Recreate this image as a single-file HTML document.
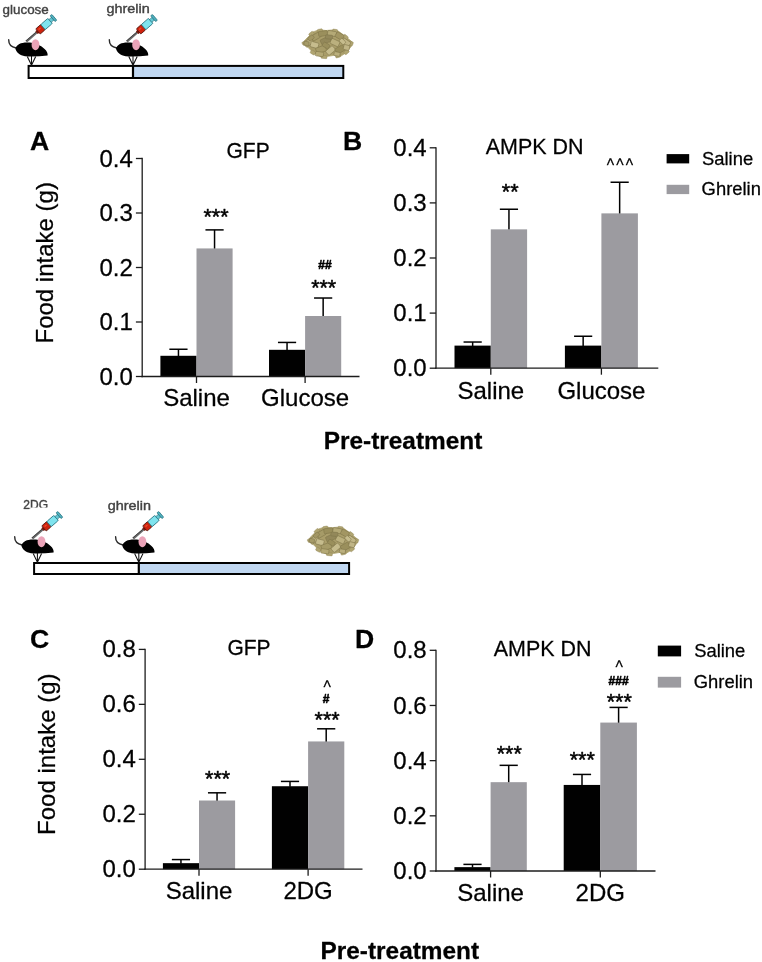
<!DOCTYPE html>
<html lang="en"><head><meta charset="utf-8"><title>Food intake figure</title>
<style>
html,body{margin:0;padding:0;background:#fff;}
body{width:762px;height:962px;overflow:hidden;}
svg{display:block;font-family:"Liberation Sans", Arial, Helvetica, sans-serif;}
.sl text{stroke:#404040;stroke-width:0.4px;}
.ct text{stroke:#000;stroke-width:0.28px;stroke-linejoin:round;}
</style></head><body>
<svg width="762" height="962" viewBox="0 0 762 962">
<defs>
<filter id="soft" x="-10%" y="-10%" width="120%" height="120%"><feGaussianBlur stdDeviation="0.45"/></filter>
<filter id="soft2" x="-10%" y="-10%" width="120%" height="120%"><feGaussianBlur stdDeviation="0.35"/></filter>
<clipPath id="clip2dg"><rect x="0" y="490" width="30.6" height="19.5"/><rect x="30.6" y="490" width="60" height="17.4"/></clipPath>
</defs>
<rect width="762" height="962" fill="#fff"/>
<g opacity="0.999">

<g class="sl" filter="url(#soft2)">
<rect x="28.60" y="65.90" width="314.70" height="12.10" fill="#fff" />
<rect x="133.00" y="65.90" width="210.30" height="12.10" fill="#c0d7f1" />
<rect x="28.60" y="65.90" width="314.70" height="12.10" fill="none" stroke="#000" stroke-width="2.0"/>
<line x1="133.00" y1="64.90" x2="133.00" y2="79.00" stroke="#000" stroke-width="2.2"/>
<g transform="translate(0.00,0.00)">
<path d="M8.7,39.8 C8.6,44.2 11.6,47.2 16.2,48.0" fill="none" stroke="#2a2a2a" stroke-width="1.4" stroke-linecap="round"/>
<g transform="translate(26.3,41.6) rotate(-41)">
<rect x="0" y="-1.1" width="14.2" height="2.2" fill="#6b6b6b"/>
<rect x="0" y="-1.1" width="14.2" height="0.6" fill="#333"/>
<rect x="13.6" y="-1.9" width="2.4" height="3.8" fill="#7a1408"/>
<rect x="15.4" y="-3.4" width="6.8" height="6.8" rx="0.9" fill="#cf2108" stroke="#4a1810" stroke-width="0.8"/>
<rect x="17" y="-1.8" width="3" height="1.6" rx="0.8" fill="#e8472c"/>
<rect x="22.0" y="-3.4" width="9.6" height="6.8" rx="0.9" fill="#7fe3ee" stroke="#256f7c" stroke-width="0.8"/>
<rect x="31.4" y="-1.8" width="3.8" height="3.6" fill="#62c6d3" stroke="#256f7c" stroke-width="0.6"/>
<rect x="34.8" y="-3.9" width="2.3" height="7.8" rx="0.9" fill="#4fb0be" stroke="#256f7c" stroke-width="0.7"/>
</g>
<path d="M15.4,48.6 C16.6,43.6 23,41.7 30,42.6 C36,43.3 41,45.6 44.6,48.9 C46.8,50.9 48,53.4 47.6,55.6 C40,56.4 32,56.7 25,56.3 C20,55.6 16.2,52.6 15.4,48.6 Z" fill="#050505"/>
<ellipse cx="35.5" cy="44.7" rx="3.9" ry="5.5" fill="#eba3b8"/>
</g>
<g transform="translate(100.60,0.00)">
<path d="M8.7,39.8 C8.6,44.2 11.6,47.2 16.2,48.0" fill="none" stroke="#2a2a2a" stroke-width="1.4" stroke-linecap="round"/>
<g transform="translate(26.3,41.6) rotate(-41)">
<rect x="0" y="-1.1" width="14.2" height="2.2" fill="#6b6b6b"/>
<rect x="0" y="-1.1" width="14.2" height="0.6" fill="#333"/>
<rect x="13.6" y="-1.9" width="2.4" height="3.8" fill="#7a1408"/>
<rect x="15.4" y="-3.4" width="6.8" height="6.8" rx="0.9" fill="#cf2108" stroke="#4a1810" stroke-width="0.8"/>
<rect x="17" y="-1.8" width="3" height="1.6" rx="0.8" fill="#e8472c"/>
<rect x="22.0" y="-3.4" width="9.6" height="6.8" rx="0.9" fill="#7fe3ee" stroke="#256f7c" stroke-width="0.8"/>
<rect x="31.4" y="-1.8" width="3.8" height="3.6" fill="#62c6d3" stroke="#256f7c" stroke-width="0.6"/>
<rect x="34.8" y="-3.9" width="2.3" height="7.8" rx="0.9" fill="#4fb0be" stroke="#256f7c" stroke-width="0.7"/>
</g>
<path d="M15.4,48.6 C16.6,43.6 23,41.7 30,42.6 C36,43.3 41,45.6 44.6,48.9 C46.8,50.9 48,53.4 47.6,55.6 C40,56.4 32,56.7 25,56.3 C20,55.6 16.2,52.6 15.4,48.6 Z" fill="#050505"/>
<ellipse cx="35.5" cy="44.7" rx="3.9" ry="5.5" fill="#eba3b8"/>
</g>
<path d="M27.30,56.40 L31.50,65.20 L35.70,56.40 M31.50,55.90 L31.50,65.20" fill="none" stroke="#111" stroke-width="1.05"/>
<path d="M128.80,56.40 L133.00,65.20 L137.20,56.40 M133.00,55.90 L133.00,65.20" fill="none" stroke="#111" stroke-width="1.05"/>
<text x="2.60" y="13.90" font-size="13.4" text-anchor="start" font-weight="normal" fill="#444" >glucose</text>
<text transform="translate(106.50,13.20) scale(1.075,1)" font-size="13.4" text-anchor="start" font-weight="normal" fill="#444" >ghrelin</text>
</g>
<g transform="translate(280.00,10.00)" filter="url(#soft)">
<path d="M23.1,32.9 L25.5,29.5 L29,26 L33,21.9 L37,20.5 L40.8,19.9 L46,20.5 L52,20 L58.2,21.1 L63,24.5 L68,28.5 L72.3,32.1 L71.5,36 L68.4,40 L65,43.5 L60.5,46.3 L56,45 L50,46 L41.6,47.1 L36,44 L32,41.5 L28.2,37.6 L25,35.5 Z" fill="#aa9e6b" stroke="#b3a875" stroke-width="0.8" stroke-linejoin="round"/>
<rect x="22.2" y="31.2" width="4.5" height="3.5" rx="0.8" fill="#b0a571" stroke="#8f8455" stroke-width="0.4" transform="rotate(-30 24.5 33)"/>
<rect x="29.0" y="22.2" width="5" height="3.5" rx="0.8" fill="#b0a571" stroke="#8f8455" stroke-width="0.4" transform="rotate(-40 31.5 24)"/>
<rect x="37.5" y="19.1" width="5" height="3" rx="0.8" fill="#b0a571" stroke="#8f8455" stroke-width="0.4" transform="rotate(-10 40 20.6)"/>
<rect x="52.5" y="19.3" width="5" height="3" rx="0.8" fill="#b0a571" stroke="#8f8455" stroke-width="0.4" transform="rotate(8 55 20.8)"/>
<rect x="63.0" y="25.2" width="5" height="3.5" rx="0.8" fill="#b0a571" stroke="#8f8455" stroke-width="0.4" transform="rotate(38 65.5 27)"/>
<rect x="69.0" y="31.5" width="4" height="4" rx="0.8" fill="#b0a571" stroke="#8f8455" stroke-width="0.4" transform="rotate(20 71 33.5)"/>
<rect x="64.0" y="40.2" width="5" height="3.5" rx="0.8" fill="#b0a571" stroke="#8f8455" stroke-width="0.4" transform="rotate(-40 66.5 42)"/>
<rect x="55.5" y="44.5" width="5" height="3" rx="0.8" fill="#b0a571" stroke="#8f8455" stroke-width="0.4" transform="rotate(-15 58 46)"/>
<rect x="41.0" y="45.5" width="6" height="3" rx="0.8" fill="#b0a571" stroke="#8f8455" stroke-width="0.4" transform="rotate(5 44 47)"/>
<rect x="30.5" y="40.8" width="5" height="3.5" rx="0.8" fill="#b0a571" stroke="#8f8455" stroke-width="0.4" transform="rotate(30 33 42.5)"/>
<rect x="24.0" y="29.8" width="9" height="5.5" rx="1" fill="#bbb07e" stroke="#7f7549" stroke-width="0.55" transform="rotate(-35 28.5 32.5)"/>
<rect x="31.5" y="23.8" width="9" height="5.5" rx="1" fill="#a69b67" stroke="#7f7549" stroke-width="0.55" transform="rotate(-30 36 26.5)"/>
<rect x="30.5" y="32.2" width="8" height="5.5" rx="1" fill="#c6bc8d" stroke="#7f7549" stroke-width="0.55" transform="rotate(15 34.5 35)"/>
<rect x="38.5" y="21.0" width="9" height="5" rx="1" fill="#9a8f5c" stroke="#7f7549" stroke-width="0.55" transform="rotate(-8 43 23.5)"/>
<rect x="47.5" y="21.0" width="9" height="5" rx="1" fill="#b4a976" stroke="#7f7549" stroke-width="0.55" transform="rotate(10 52 23.5)"/>
<rect x="55.5" y="23.2" width="8" height="5.5" rx="1" fill="#a29663" stroke="#7f7549" stroke-width="0.55" transform="rotate(30 59.5 26)"/>
<rect x="61.8" y="29.8" width="8.5" height="5.5" rx="1" fill="#c0b586" stroke="#7f7549" stroke-width="0.55" transform="rotate(35 66 32.5)"/>
<rect x="40.5" y="27.8" width="10" height="5.5" rx="1" fill="#93885a" stroke="#7f7549" stroke-width="0.55" transform="rotate(-25 45.5 30.5)"/>
<rect x="50.5" y="29.8" width="9" height="5.5" rx="1" fill="#bbb07e" stroke="#7f7549" stroke-width="0.55" transform="rotate(25 55 32.5)"/>
<rect x="36.0" y="36.5" width="10" height="6" rx="1" fill="#a69b67" stroke="#7f7549" stroke-width="0.55" transform="rotate(-20 41 39.5)"/>
<rect x="46.0" y="37.8" width="9" height="5.5" rx="1" fill="#c6bc8d" stroke="#7f7549" stroke-width="0.55" transform="rotate(-40 50.5 40.5)"/>
<rect x="55.5" y="36.5" width="9" height="6" rx="1" fill="#9a8f5c" stroke="#7f7549" stroke-width="0.55" transform="rotate(-30 60 39.5)"/>
<rect x="35.5" y="41.8" width="8" height="4.5" rx="1" fill="#b4a976" stroke="#7f7549" stroke-width="0.55" transform="rotate(8 39.5 44)"/>
<rect x="28.0" y="26.0" width="6" height="4" rx="1" fill="#a29663" stroke="#7f7549" stroke-width="0.55" transform="rotate(-40 31 28)"/>
<rect x="63.5" y="35.0" width="6" height="5" rx="1" fill="#c0b586" stroke="#7f7549" stroke-width="0.55" transform="rotate(15 66.5 37.5)"/>
<rect x="45.5" y="25.0" width="7" height="4" rx="1" fill="#93885a" stroke="#7f7549" stroke-width="0.55" transform="rotate(5 49 27)"/>
<rect x="54.0" y="42.0" width="6" height="4" rx="1" fill="#bbb07e" stroke="#7f7549" stroke-width="0.55" transform="rotate(10 57 44)"/>
<rect x="24.0" y="31.5" width="5" height="4" rx="1" fill="#a69b67" stroke="#7f7549" stroke-width="0.55" transform="rotate(10 26.5 33.5)"/>
<rect x="59.5" y="29.5" width="6" height="4" rx="1" fill="#c6bc8d" stroke="#7f7549" stroke-width="0.55" transform="rotate(45 62.5 31.5)"/>
<rect x="42.5" y="33.2" width="7" height="4.5" rx="1" fill="#9a8f5c" stroke="#7f7549" stroke-width="0.55" transform="rotate(30 46 35.5)"/>
</g>
<g class="sl" filter="url(#soft2)">
<rect x="34.10" y="563.00" width="315.00" height="11.00" fill="#fff" />
<rect x="138.80" y="563.00" width="210.30" height="11.00" fill="#c0d7f1" />
<rect x="34.10" y="563.00" width="315.00" height="11.00" fill="none" stroke="#000" stroke-width="2.0"/>
<line x1="138.80" y1="562.00" x2="138.80" y2="575.00" stroke="#000" stroke-width="2.2"/>
<g transform="translate(6.00,497.00)">
<path d="M8.7,39.8 C8.6,44.2 11.6,47.2 16.2,48.0" fill="none" stroke="#2a2a2a" stroke-width="1.4" stroke-linecap="round"/>
<g transform="translate(26.3,41.6) rotate(-41)">
<rect x="0" y="-1.1" width="14.2" height="2.2" fill="#6b6b6b"/>
<rect x="0" y="-1.1" width="14.2" height="0.6" fill="#333"/>
<rect x="13.6" y="-1.9" width="2.4" height="3.8" fill="#7a1408"/>
<rect x="15.4" y="-3.4" width="6.8" height="6.8" rx="0.9" fill="#cf2108" stroke="#4a1810" stroke-width="0.8"/>
<rect x="17" y="-1.8" width="3" height="1.6" rx="0.8" fill="#e8472c"/>
<rect x="22.0" y="-3.4" width="9.6" height="6.8" rx="0.9" fill="#7fe3ee" stroke="#256f7c" stroke-width="0.8"/>
<rect x="31.4" y="-1.8" width="3.8" height="3.6" fill="#62c6d3" stroke="#256f7c" stroke-width="0.6"/>
<rect x="34.8" y="-3.9" width="2.3" height="7.8" rx="0.9" fill="#4fb0be" stroke="#256f7c" stroke-width="0.7"/>
</g>
<path d="M15.4,48.6 C16.6,43.6 23,41.7 30,42.6 C36,43.3 41,45.6 44.6,48.9 C46.8,50.9 48,53.4 47.6,55.6 C40,56.4 32,56.7 25,56.3 C20,55.6 16.2,52.6 15.4,48.6 Z" fill="#050505"/>
<ellipse cx="35.5" cy="44.7" rx="3.9" ry="5.5" fill="#eba3b8"/>
</g>
<g transform="translate(106.90,497.00)">
<path d="M8.7,39.8 C8.6,44.2 11.6,47.2 16.2,48.0" fill="none" stroke="#2a2a2a" stroke-width="1.4" stroke-linecap="round"/>
<g transform="translate(26.3,41.6) rotate(-41)">
<rect x="0" y="-1.1" width="14.2" height="2.2" fill="#6b6b6b"/>
<rect x="0" y="-1.1" width="14.2" height="0.6" fill="#333"/>
<rect x="13.6" y="-1.9" width="2.4" height="3.8" fill="#7a1408"/>
<rect x="15.4" y="-3.4" width="6.8" height="6.8" rx="0.9" fill="#cf2108" stroke="#4a1810" stroke-width="0.8"/>
<rect x="17" y="-1.8" width="3" height="1.6" rx="0.8" fill="#e8472c"/>
<rect x="22.0" y="-3.4" width="9.6" height="6.8" rx="0.9" fill="#7fe3ee" stroke="#256f7c" stroke-width="0.8"/>
<rect x="31.4" y="-1.8" width="3.8" height="3.6" fill="#62c6d3" stroke="#256f7c" stroke-width="0.6"/>
<rect x="34.8" y="-3.9" width="2.3" height="7.8" rx="0.9" fill="#4fb0be" stroke="#256f7c" stroke-width="0.7"/>
</g>
<path d="M15.4,48.6 C16.6,43.6 23,41.7 30,42.6 C36,43.3 41,45.6 44.6,48.9 C46.8,50.9 48,53.4 47.6,55.6 C40,56.4 32,56.7 25,56.3 C20,55.6 16.2,52.6 15.4,48.6 Z" fill="#050505"/>
<ellipse cx="35.5" cy="44.7" rx="3.9" ry="5.5" fill="#eba3b8"/>
</g>
<path d="M33.20,553.60 L37.40,562.30 L41.60,553.60 M37.40,553.10 L37.40,562.30" fill="none" stroke="#111" stroke-width="1.05"/>
<path d="M134.60,553.60 L138.80,562.30 L143.00,553.60 M138.80,553.10 L138.80,562.30" fill="none" stroke="#111" stroke-width="1.05"/>
<g clip-path="url(#clip2dg)">
<text x="23.30" y="508.80" font-size="12.0" text-anchor="start" font-weight="normal" fill="#444" >2DG</text>
</g>
<text transform="translate(107.80,509.80) scale(1.075,1)" font-size="13.4" text-anchor="start" font-weight="normal" fill="#444" >ghrelin</text>
</g>
<g transform="translate(285.40,507.20)" filter="url(#soft)">
<path d="M23.1,32.9 L25.5,29.5 L29,26 L33,21.9 L37,20.5 L40.8,19.9 L46,20.5 L52,20 L58.2,21.1 L63,24.5 L68,28.5 L72.3,32.1 L71.5,36 L68.4,40 L65,43.5 L60.5,46.3 L56,45 L50,46 L41.6,47.1 L36,44 L32,41.5 L28.2,37.6 L25,35.5 Z" fill="#aa9e6b" stroke="#b3a875" stroke-width="0.8" stroke-linejoin="round"/>
<rect x="22.2" y="31.2" width="4.5" height="3.5" rx="0.8" fill="#b0a571" stroke="#8f8455" stroke-width="0.4" transform="rotate(-30 24.5 33)"/>
<rect x="29.0" y="22.2" width="5" height="3.5" rx="0.8" fill="#b0a571" stroke="#8f8455" stroke-width="0.4" transform="rotate(-40 31.5 24)"/>
<rect x="37.5" y="19.1" width="5" height="3" rx="0.8" fill="#b0a571" stroke="#8f8455" stroke-width="0.4" transform="rotate(-10 40 20.6)"/>
<rect x="52.5" y="19.3" width="5" height="3" rx="0.8" fill="#b0a571" stroke="#8f8455" stroke-width="0.4" transform="rotate(8 55 20.8)"/>
<rect x="63.0" y="25.2" width="5" height="3.5" rx="0.8" fill="#b0a571" stroke="#8f8455" stroke-width="0.4" transform="rotate(38 65.5 27)"/>
<rect x="69.0" y="31.5" width="4" height="4" rx="0.8" fill="#b0a571" stroke="#8f8455" stroke-width="0.4" transform="rotate(20 71 33.5)"/>
<rect x="64.0" y="40.2" width="5" height="3.5" rx="0.8" fill="#b0a571" stroke="#8f8455" stroke-width="0.4" transform="rotate(-40 66.5 42)"/>
<rect x="55.5" y="44.5" width="5" height="3" rx="0.8" fill="#b0a571" stroke="#8f8455" stroke-width="0.4" transform="rotate(-15 58 46)"/>
<rect x="41.0" y="45.5" width="6" height="3" rx="0.8" fill="#b0a571" stroke="#8f8455" stroke-width="0.4" transform="rotate(5 44 47)"/>
<rect x="30.5" y="40.8" width="5" height="3.5" rx="0.8" fill="#b0a571" stroke="#8f8455" stroke-width="0.4" transform="rotate(30 33 42.5)"/>
<rect x="24.0" y="29.8" width="9" height="5.5" rx="1" fill="#bbb07e" stroke="#7f7549" stroke-width="0.55" transform="rotate(-35 28.5 32.5)"/>
<rect x="31.5" y="23.8" width="9" height="5.5" rx="1" fill="#a69b67" stroke="#7f7549" stroke-width="0.55" transform="rotate(-30 36 26.5)"/>
<rect x="30.5" y="32.2" width="8" height="5.5" rx="1" fill="#c6bc8d" stroke="#7f7549" stroke-width="0.55" transform="rotate(15 34.5 35)"/>
<rect x="38.5" y="21.0" width="9" height="5" rx="1" fill="#9a8f5c" stroke="#7f7549" stroke-width="0.55" transform="rotate(-8 43 23.5)"/>
<rect x="47.5" y="21.0" width="9" height="5" rx="1" fill="#b4a976" stroke="#7f7549" stroke-width="0.55" transform="rotate(10 52 23.5)"/>
<rect x="55.5" y="23.2" width="8" height="5.5" rx="1" fill="#a29663" stroke="#7f7549" stroke-width="0.55" transform="rotate(30 59.5 26)"/>
<rect x="61.8" y="29.8" width="8.5" height="5.5" rx="1" fill="#c0b586" stroke="#7f7549" stroke-width="0.55" transform="rotate(35 66 32.5)"/>
<rect x="40.5" y="27.8" width="10" height="5.5" rx="1" fill="#93885a" stroke="#7f7549" stroke-width="0.55" transform="rotate(-25 45.5 30.5)"/>
<rect x="50.5" y="29.8" width="9" height="5.5" rx="1" fill="#bbb07e" stroke="#7f7549" stroke-width="0.55" transform="rotate(25 55 32.5)"/>
<rect x="36.0" y="36.5" width="10" height="6" rx="1" fill="#a69b67" stroke="#7f7549" stroke-width="0.55" transform="rotate(-20 41 39.5)"/>
<rect x="46.0" y="37.8" width="9" height="5.5" rx="1" fill="#c6bc8d" stroke="#7f7549" stroke-width="0.55" transform="rotate(-40 50.5 40.5)"/>
<rect x="55.5" y="36.5" width="9" height="6" rx="1" fill="#9a8f5c" stroke="#7f7549" stroke-width="0.55" transform="rotate(-30 60 39.5)"/>
<rect x="35.5" y="41.8" width="8" height="4.5" rx="1" fill="#b4a976" stroke="#7f7549" stroke-width="0.55" transform="rotate(8 39.5 44)"/>
<rect x="28.0" y="26.0" width="6" height="4" rx="1" fill="#a29663" stroke="#7f7549" stroke-width="0.55" transform="rotate(-40 31 28)"/>
<rect x="63.5" y="35.0" width="6" height="5" rx="1" fill="#c0b586" stroke="#7f7549" stroke-width="0.55" transform="rotate(15 66.5 37.5)"/>
<rect x="45.5" y="25.0" width="7" height="4" rx="1" fill="#93885a" stroke="#7f7549" stroke-width="0.55" transform="rotate(5 49 27)"/>
<rect x="54.0" y="42.0" width="6" height="4" rx="1" fill="#bbb07e" stroke="#7f7549" stroke-width="0.55" transform="rotate(10 57 44)"/>
<rect x="24.0" y="31.5" width="5" height="4" rx="1" fill="#a69b67" stroke="#7f7549" stroke-width="0.55" transform="rotate(10 26.5 33.5)"/>
<rect x="59.5" y="29.5" width="6" height="4" rx="1" fill="#c6bc8d" stroke="#7f7549" stroke-width="0.55" transform="rotate(45 62.5 31.5)"/>
<rect x="42.5" y="33.2" width="7" height="4.5" rx="1" fill="#9a8f5c" stroke="#7f7549" stroke-width="0.55" transform="rotate(30 46 35.5)"/>
</g>
<g class="ct">
<line x1="178.45" y1="356.29" x2="178.45" y2="349.25" stroke="#000" stroke-width="1.5"/>
<line x1="169.35" y1="349.25" x2="187.55" y2="349.25" stroke="#000" stroke-width="1.5"/>
<rect x="160.40" y="355.79" width="36.10" height="20.71" fill="#000" />
<line x1="214.55" y1="248.93" x2="214.55" y2="229.89" stroke="#000" stroke-width="1.5"/>
<line x1="205.45" y1="229.89" x2="223.65" y2="229.89" stroke="#000" stroke-width="1.5"/>
<rect x="196.50" y="248.43" width="36.10" height="128.07" fill="#9c9ba0" />
<line x1="287.05" y1="350.30" x2="287.05" y2="342.44" stroke="#000" stroke-width="1.5"/>
<line x1="277.95" y1="342.44" x2="296.15" y2="342.44" stroke="#000" stroke-width="1.5"/>
<rect x="269.00" y="349.80" width="36.10" height="26.70" fill="#000" />
<line x1="323.15" y1="316.50" x2="323.15" y2="298.02" stroke="#000" stroke-width="1.5"/>
<line x1="314.05" y1="298.02" x2="332.25" y2="298.02" stroke="#000" stroke-width="1.5"/>
<rect x="305.10" y="316.00" width="36.10" height="60.50" fill="#9c9ba0" />
<line x1="142.20" y1="157.85" x2="142.20" y2="377.15" stroke="#1c1c1c" stroke-width="1.3"/>
<line x1="141.55" y1="376.50" x2="359.50" y2="376.50" stroke="#1c1c1c" stroke-width="1.3"/>
<line x1="135.90" y1="376.50" x2="142.20" y2="376.50" stroke="#1c1c1c" stroke-width="1.3"/>
<text x="132.90" y="384.55" font-size="24" text-anchor="end" font-weight="normal" fill="#000" >0.0</text>
<line x1="135.90" y1="322.00" x2="142.20" y2="322.00" stroke="#1c1c1c" stroke-width="1.3"/>
<text x="132.90" y="330.05" font-size="24" text-anchor="end" font-weight="normal" fill="#000" >0.1</text>
<line x1="135.90" y1="267.50" x2="142.20" y2="267.50" stroke="#1c1c1c" stroke-width="1.3"/>
<text x="132.90" y="275.55" font-size="24" text-anchor="end" font-weight="normal" fill="#000" >0.2</text>
<line x1="135.90" y1="213.00" x2="142.20" y2="213.00" stroke="#1c1c1c" stroke-width="1.3"/>
<text x="132.90" y="221.05" font-size="24" text-anchor="end" font-weight="normal" fill="#000" >0.3</text>
<line x1="135.90" y1="158.50" x2="142.20" y2="158.50" stroke="#1c1c1c" stroke-width="1.3"/>
<text x="132.90" y="166.55" font-size="24" text-anchor="end" font-weight="normal" fill="#000" >0.4</text>
<line x1="196.50" y1="376.50" x2="196.50" y2="383.00" stroke="#1c1c1c" stroke-width="1.3"/>
<text x="196.50" y="406.30" font-size="24" text-anchor="middle" font-weight="normal" fill="#000" >Saline</text>
<line x1="305.10" y1="376.50" x2="305.10" y2="383.00" stroke="#1c1c1c" stroke-width="1.3"/>
<text x="305.10" y="406.30" font-size="24" text-anchor="middle" font-weight="normal" fill="#000" >Glucose</text>
<text x="30.10" y="150.30" font-size="26.6" text-anchor="start" font-weight="bold" fill="#000" >A</text>
<text transform="translate(248.10,157.80) scale(0.945,1)" font-size="22.2" text-anchor="middle" font-weight="normal" fill="#000" >GFP</text>
<text x="216.00" y="223.50" font-size="21.5" text-anchor="middle" font-weight="normal" fill="#000" style="stroke-width:0.5px">***</text>
<text x="323.70" y="294.50" font-size="21.5" text-anchor="middle" font-weight="normal" fill="#000" style="stroke-width:0.5px">***</text>
<text x="325.00" y="268.90" font-size="12" text-anchor="middle" font-weight="bold" fill="#000" style="stroke-width:0.6px">##</text>
<text transform="translate(53.3,262.8) rotate(-90)" font-size="24" text-anchor="middle" fill="#000">Food intake (g)</text>
<line x1="472.65" y1="346.11" x2="472.65" y2="342.03" stroke="#000" stroke-width="1.5"/>
<line x1="463.55" y1="342.03" x2="481.75" y2="342.03" stroke="#000" stroke-width="1.5"/>
<rect x="454.50" y="345.61" width="36.30" height="22.59" fill="#000" />
<line x1="508.95" y1="229.85" x2="508.95" y2="209.24" stroke="#000" stroke-width="1.5"/>
<line x1="499.85" y1="209.24" x2="518.05" y2="209.24" stroke="#000" stroke-width="1.5"/>
<rect x="490.80" y="229.35" width="36.30" height="138.85" fill="#9c9ba0" />
<line x1="583.15" y1="346.11" x2="583.15" y2="336.24" stroke="#000" stroke-width="1.5"/>
<line x1="574.05" y1="336.24" x2="592.25" y2="336.24" stroke="#000" stroke-width="1.5"/>
<rect x="564.90" y="345.61" width="36.50" height="22.59" fill="#000" />
<line x1="619.65" y1="213.87" x2="619.65" y2="182.24" stroke="#000" stroke-width="1.5"/>
<line x1="610.55" y1="182.24" x2="628.75" y2="182.24" stroke="#000" stroke-width="1.5"/>
<rect x="601.40" y="213.37" width="36.50" height="154.83" fill="#9c9ba0" />
<line x1="436.00" y1="147.15" x2="436.00" y2="368.85" stroke="#1c1c1c" stroke-width="1.3"/>
<line x1="435.35" y1="368.20" x2="658.30" y2="368.20" stroke="#1c1c1c" stroke-width="1.3"/>
<line x1="429.70" y1="368.20" x2="436.00" y2="368.20" stroke="#1c1c1c" stroke-width="1.3"/>
<text x="426.70" y="376.25" font-size="24" text-anchor="end" font-weight="normal" fill="#000" >0.0</text>
<line x1="429.70" y1="313.10" x2="436.00" y2="313.10" stroke="#1c1c1c" stroke-width="1.3"/>
<text x="426.70" y="321.15" font-size="24" text-anchor="end" font-weight="normal" fill="#000" >0.1</text>
<line x1="429.70" y1="258.00" x2="436.00" y2="258.00" stroke="#1c1c1c" stroke-width="1.3"/>
<text x="426.70" y="266.05" font-size="24" text-anchor="end" font-weight="normal" fill="#000" >0.2</text>
<line x1="429.70" y1="202.90" x2="436.00" y2="202.90" stroke="#1c1c1c" stroke-width="1.3"/>
<text x="426.70" y="210.95" font-size="24" text-anchor="end" font-weight="normal" fill="#000" >0.3</text>
<line x1="429.70" y1="147.80" x2="436.00" y2="147.80" stroke="#1c1c1c" stroke-width="1.3"/>
<text x="426.70" y="155.85" font-size="24" text-anchor="end" font-weight="normal" fill="#000" >0.4</text>
<line x1="490.80" y1="368.20" x2="490.80" y2="374.70" stroke="#1c1c1c" stroke-width="1.3"/>
<text x="490.80" y="399.00" font-size="24" text-anchor="middle" font-weight="normal" fill="#000" >Saline</text>
<line x1="601.40" y1="368.20" x2="601.40" y2="374.70" stroke="#1c1c1c" stroke-width="1.3"/>
<text x="601.40" y="399.00" font-size="24" text-anchor="middle" font-weight="normal" fill="#000" >Glucose</text>
<text x="342.90" y="150.10" font-size="26.6" text-anchor="start" font-weight="bold" fill="#000" >B</text>
<text transform="translate(534.60,153.70) scale(0.968,1)" font-size="22.2" text-anchor="middle" font-weight="normal" fill="#000" >AMPK DN</text>
<text x="510.20" y="199.30" font-size="21.5" text-anchor="middle" font-weight="normal" fill="#000" style="stroke-width:0.5px">**</text>
<text transform="translate(610.50,170.50) scale(0.83,1)" font-size="19" text-anchor="middle" font-weight="normal" fill="#000" >^</text>
<text transform="translate(620.00,170.50) scale(0.83,1)" font-size="19" text-anchor="middle" font-weight="normal" fill="#000" >^</text>
<text transform="translate(629.50,170.50) scale(0.83,1)" font-size="19" text-anchor="middle" font-weight="normal" fill="#000" >^</text>
<rect x="666.60" y="154.10" width="22.60" height="9.30" fill="#000" />
<rect x="666.60" y="184.80" width="22.60" height="9.30" fill="#9c9ba0" />
<text x="702.00" y="164.60" font-size="18.4" text-anchor="start" font-weight="normal" fill="#000" >Saline</text>
<text x="701.60" y="195.20" font-size="18.4" text-anchor="start" font-weight="normal" fill="#000" >Ghrelin</text>
<text x="403.00" y="448.50" font-size="24.4" text-anchor="middle" font-weight="bold" fill="#000" >Pre-treatment</text>
<line x1="180.95" y1="863.66" x2="180.95" y2="859.58" stroke="#000" stroke-width="1.5"/>
<line x1="171.85" y1="859.58" x2="190.05" y2="859.58" stroke="#000" stroke-width="1.5"/>
<rect x="162.90" y="863.16" width="36.10" height="6.04" fill="#000" />
<line x1="217.05" y1="801.01" x2="217.05" y2="792.82" stroke="#000" stroke-width="1.5"/>
<line x1="207.95" y1="792.82" x2="226.15" y2="792.82" stroke="#000" stroke-width="1.5"/>
<rect x="199.00" y="800.51" width="36.10" height="68.69" fill="#9c9ba0" />
<line x1="290.00" y1="786.73" x2="290.00" y2="781.42" stroke="#000" stroke-width="1.5"/>
<line x1="280.90" y1="781.42" x2="299.10" y2="781.42" stroke="#000" stroke-width="1.5"/>
<rect x="271.90" y="786.23" width="36.20" height="82.97" fill="#000" />
<line x1="326.20" y1="741.94" x2="326.20" y2="728.80" stroke="#000" stroke-width="1.5"/>
<line x1="317.10" y1="728.80" x2="335.30" y2="728.80" stroke="#000" stroke-width="1.5"/>
<rect x="308.10" y="741.44" width="36.20" height="127.76" fill="#9c9ba0" />
<line x1="145.10" y1="648.75" x2="145.10" y2="869.85" stroke="#1c1c1c" stroke-width="1.3"/>
<line x1="144.45" y1="869.20" x2="362.50" y2="869.20" stroke="#1c1c1c" stroke-width="1.3"/>
<line x1="138.80" y1="869.20" x2="145.10" y2="869.20" stroke="#1c1c1c" stroke-width="1.3"/>
<text x="135.80" y="877.25" font-size="24" text-anchor="end" font-weight="normal" fill="#000" >0.0</text>
<line x1="138.80" y1="814.25" x2="145.10" y2="814.25" stroke="#1c1c1c" stroke-width="1.3"/>
<text x="135.80" y="822.30" font-size="24" text-anchor="end" font-weight="normal" fill="#000" >0.2</text>
<line x1="138.80" y1="759.30" x2="145.10" y2="759.30" stroke="#1c1c1c" stroke-width="1.3"/>
<text x="135.80" y="767.35" font-size="24" text-anchor="end" font-weight="normal" fill="#000" >0.4</text>
<line x1="138.80" y1="704.35" x2="145.10" y2="704.35" stroke="#1c1c1c" stroke-width="1.3"/>
<text x="135.80" y="712.40" font-size="24" text-anchor="end" font-weight="normal" fill="#000" >0.6</text>
<line x1="138.80" y1="649.40" x2="145.10" y2="649.40" stroke="#1c1c1c" stroke-width="1.3"/>
<text x="135.80" y="657.45" font-size="24" text-anchor="end" font-weight="normal" fill="#000" >0.8</text>
<line x1="199.00" y1="869.20" x2="199.00" y2="875.70" stroke="#1c1c1c" stroke-width="1.3"/>
<text x="199.00" y="899.00" font-size="24" text-anchor="middle" font-weight="normal" fill="#000" >Saline</text>
<line x1="308.10" y1="869.20" x2="308.10" y2="875.70" stroke="#1c1c1c" stroke-width="1.3"/>
<text x="308.10" y="899.00" font-size="24" text-anchor="middle" font-weight="normal" fill="#000" >2DG</text>
<text x="30.00" y="647.90" font-size="26.6" text-anchor="start" font-weight="bold" fill="#000" >C</text>
<text transform="translate(249.00,655.40) scale(0.945,1)" font-size="22.2" text-anchor="middle" font-weight="normal" fill="#000" >GFP</text>
<text x="217.60" y="785.80" font-size="21.5" text-anchor="middle" font-weight="normal" fill="#000" style="stroke-width:0.5px">***</text>
<text x="327.10" y="727.10" font-size="21.5" text-anchor="middle" font-weight="normal" fill="#000" style="stroke-width:0.5px">***</text>
<text x="326.10" y="703.20" font-size="12" text-anchor="middle" font-weight="bold" fill="#000" style="stroke-width:0.6px">#</text>
<text transform="translate(327.10,692.50) scale(0.83,1)" font-size="19" text-anchor="middle" font-weight="normal" fill="#000" >^</text>
<text transform="translate(55.1,754.2) rotate(-90)" font-size="24" text-anchor="middle" fill="#000">Food intake (g)</text>
<line x1="472.50" y1="867.64" x2="472.50" y2="864.38" stroke="#000" stroke-width="1.5"/>
<line x1="463.40" y1="864.38" x2="481.60" y2="864.38" stroke="#000" stroke-width="1.5"/>
<rect x="454.40" y="867.14" width="36.20" height="3.86" fill="#000" />
<line x1="508.70" y1="782.67" x2="508.70" y2="765.34" stroke="#000" stroke-width="1.5"/>
<line x1="499.60" y1="765.34" x2="517.80" y2="765.34" stroke="#000" stroke-width="1.5"/>
<rect x="490.60" y="782.17" width="36.20" height="88.83" fill="#9c9ba0" />
<line x1="582.00" y1="785.43" x2="582.00" y2="774.44" stroke="#000" stroke-width="1.5"/>
<line x1="572.90" y1="774.44" x2="591.10" y2="774.44" stroke="#000" stroke-width="1.5"/>
<rect x="563.70" y="784.93" width="36.60" height="86.07" fill="#000" />
<line x1="618.60" y1="723.08" x2="618.60" y2="707.41" stroke="#000" stroke-width="1.5"/>
<line x1="609.50" y1="707.41" x2="627.70" y2="707.41" stroke="#000" stroke-width="1.5"/>
<rect x="600.30" y="722.58" width="36.60" height="148.42" fill="#9c9ba0" />
<line x1="436.00" y1="649.65" x2="436.00" y2="871.65" stroke="#1c1c1c" stroke-width="1.3"/>
<line x1="435.35" y1="871.00" x2="655.50" y2="871.00" stroke="#1c1c1c" stroke-width="1.3"/>
<line x1="429.70" y1="871.00" x2="436.00" y2="871.00" stroke="#1c1c1c" stroke-width="1.3"/>
<text x="426.70" y="879.05" font-size="24" text-anchor="end" font-weight="normal" fill="#000" >0.0</text>
<line x1="429.70" y1="815.83" x2="436.00" y2="815.83" stroke="#1c1c1c" stroke-width="1.3"/>
<text x="426.70" y="823.88" font-size="24" text-anchor="end" font-weight="normal" fill="#000" >0.2</text>
<line x1="429.70" y1="760.65" x2="436.00" y2="760.65" stroke="#1c1c1c" stroke-width="1.3"/>
<text x="426.70" y="768.70" font-size="24" text-anchor="end" font-weight="normal" fill="#000" >0.4</text>
<line x1="429.70" y1="705.47" x2="436.00" y2="705.47" stroke="#1c1c1c" stroke-width="1.3"/>
<text x="426.70" y="713.52" font-size="24" text-anchor="end" font-weight="normal" fill="#000" >0.6</text>
<line x1="429.70" y1="650.30" x2="436.00" y2="650.30" stroke="#1c1c1c" stroke-width="1.3"/>
<text x="426.70" y="658.35" font-size="24" text-anchor="end" font-weight="normal" fill="#000" >0.8</text>
<line x1="490.60" y1="871.00" x2="490.60" y2="877.50" stroke="#1c1c1c" stroke-width="1.3"/>
<text x="490.60" y="900.80" font-size="24" text-anchor="middle" font-weight="normal" fill="#000" >Saline</text>
<line x1="600.30" y1="871.00" x2="600.30" y2="877.50" stroke="#1c1c1c" stroke-width="1.3"/>
<text x="600.30" y="900.80" font-size="24" text-anchor="middle" font-weight="normal" fill="#000" >2DG</text>
<text x="354.90" y="648.00" font-size="26.6" text-anchor="start" font-weight="bold" fill="#000" >D</text>
<text transform="translate(542.60,655.60) scale(0.968,1)" font-size="22.2" text-anchor="middle" font-weight="normal" fill="#000" >AMPK DN</text>
<text x="509.30" y="760.90" font-size="21.5" text-anchor="middle" font-weight="normal" fill="#000" style="stroke-width:0.5px">***</text>
<text x="582.30" y="766.70" font-size="21.5" text-anchor="middle" font-weight="normal" fill="#000" style="stroke-width:0.5px">***</text>
<text x="619.30" y="708.50" font-size="21.5" text-anchor="middle" font-weight="normal" fill="#000" style="stroke-width:0.5px">***</text>
<text x="618.60" y="684.80" font-size="12" text-anchor="middle" font-weight="bold" fill="#000" style="stroke-width:0.6px">###</text>
<text transform="translate(619.10,672.50) scale(0.83,1)" font-size="19" text-anchor="middle" font-weight="normal" fill="#000" >^</text>
<rect x="657.80" y="645.60" width="23.30" height="10.80" fill="#000" />
<rect x="657.80" y="676.80" width="23.30" height="10.80" fill="#9c9ba0" />
<text x="694.20" y="657.20" font-size="18.4" text-anchor="start" font-weight="normal" fill="#000" >Saline</text>
<text x="693.80" y="687.60" font-size="18.4" text-anchor="start" font-weight="normal" fill="#000" >Ghrelin</text>
<text x="399.80" y="959.40" font-size="24.4" text-anchor="middle" font-weight="bold" fill="#000" >Pre-treatment</text>
</g>
</g>
</svg>
</body></html>
